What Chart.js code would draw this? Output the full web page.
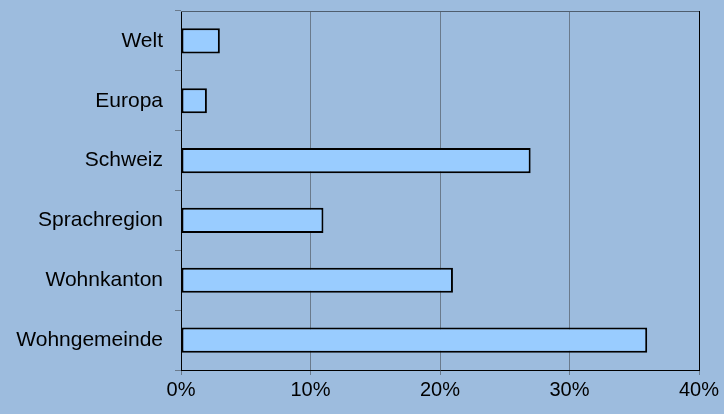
<!DOCTYPE html>
<html>
<head>
<meta charset="utf-8">
<script src="https://cdn.jsdelivr.net/npm/chart.js@4.4.1/dist/chart.umd.min.js"></script>
<style>
  html, body { margin: 0; padding: 0; background: #9dbcde; }
  #wrap { width: 724px; height: 414px; }
</style>
</head>
<body>
<div id="wrap"><canvas id="chart"></canvas></div>
<script>
const categories = ["Welt", "Europa", "Schweiz", "Sprachregion", "Wohnkanton", "Wohngemeinde"];
const shares = [3, 2, 27, 11, 21, 36];
const xTicks = [0, 10, 20, 30, 40];

// grey line on top of the plot area
const topBorder = {
  id: "topBorder",
  afterDraw(chart) {
    const { ctx, chartArea } = chart;
    ctx.save();
    ctx.strokeStyle = "#4f5e6e";
    ctx.lineWidth = 1;
    ctx.beginPath();
    ctx.moveTo(chartArea.left, chartArea.top + 0.5);
    ctx.lineTo(chartArea.right, chartArea.top + 0.5);
    ctx.stroke();
    ctx.restore();
  }
};

new Chart(document.getElementById("chart"), {
  type: "bar",
  data: {
    labels: categories,
    datasets: [{
      data: shares,
      backgroundColor: "#99ccff",
      borderColor: "#000000",
      borderWidth: 2,
      borderSkipped: false,
      barPercentage: 0.42,
      categoryPercentage: 1
    }]
  },
  options: {
    indexAxis: "y",
    responsive: true,
    maintainAspectRatio: false,
    animation: false,
    layout: { padding: { top: 11, right: 25, left: 0, bottom: 0 } },
    plugins: {
      legend: { display: false },
      tooltip: { enabled: false }
    },
    scales: {
      x: {
        min: 0,
        max: 40,
        afterBuildTicks(scale) {
          scale.ticks = xTicks.map(v => ({ value: v }));
        },
        afterFit(scale) {
          scale.height = 44;
          scale.paddingLeft = 0;
          scale.paddingRight = 0;
        },
        border: { color: "#000000", width: 1 },
        grid: {
          color: ctx => ctx.tick && ctx.tick.value === 40 ? "#000000" : "#6a7a8c",
          tickColor: "#6a7a8c",
          tickLength: 5
        },
        ticks: {
          color: "#000000",
          font: { family: "Liberation Sans, Arial, sans-serif", size: 20 },
          padding: 3,
          maxRotation: 0,
          callback: v => v + "%"
        }
      },
      y: {
        afterFit(scale) {
          scale.width = 181;
          scale.paddingTop = 0;
          scale.paddingBottom = 0;
        },
        border: { color: "#000000", width: 1 },
        grid: {
          offset: true,
          drawOnChartArea: false,
          color: "#6a7a8c",
          tickLength: 6
        },
        ticks: {
          color: "#000000",
          font: { family: "Liberation Sans, Arial, sans-serif", size: 21 },
          padding: 12
        }
      }
    }
  },
  plugins: [topBorder]
});
</script>
</body>
</html>
